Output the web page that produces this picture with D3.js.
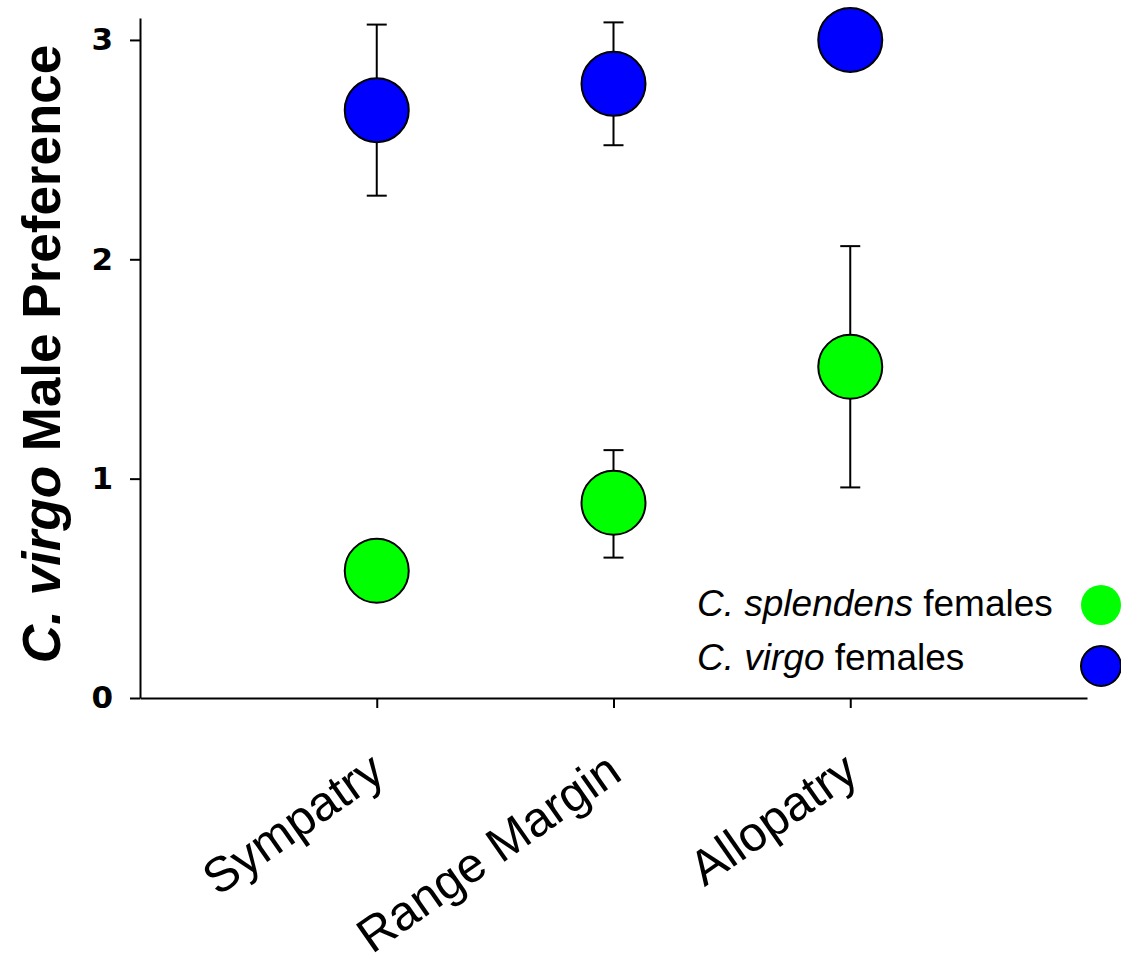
<!DOCTYPE html>
<html lang="en">
<head>
<meta charset="utf-8">
<title>C. virgo male preference</title>
<script src="https://d3js.org/d3.v7.min.js"></script>
<style>
  body { margin: 0; background: #fff; }
  .axis path, .axis line { stroke: #000; stroke-width: 2px; }
</style>
</head>
<body>
<script>
// values
var categories = ["Sympatry", "Range Margin", "Allopatry"];
var splendensMean = [0.58, 0.89, 1.51];
var splendensLow = [null, 0.64, 0.96];
var splendensHigh = [null, 1.13, 2.06];
var virgoMean = [2.68, 2.80, 3.00];
var virgoLow = [2.29, 2.52, null];
var virgoHigh = [3.07, 3.08, null];
var yTicks = [0, 1, 2, 3];

var W = 1121, H = 973;
var mLeft = 140, mRight = 1087, mTop = 18, mBottom = 698;

var svg = d3.select("body").append("svg")
  .attr("width", W).attr("height", H);

var x = d3.scalePoint().domain(categories).range([mLeft, mRight]).padding(1);
var y = d3.scaleLinear().domain([0, 3.1]).range([mBottom, mTop]);

// y axis
var yAxis = svg.append("g")
  .attr("class", "axis")
  .attr("transform", "translate(" + mLeft + ",0)")
  .call(d3.axisLeft(y).tickValues(yTicks).tickFormat(d3.format("d")).tickSize(10).tickSizeOuter(0));
yAxis.selectAll("text")
  .attr("x", -27)
  .style("font-family", "DejaVu Sans")
  .style("font-weight", "bold")
  .style("font-size", "31px")
  .attr("fill", "#000");

// x axis
var xAxis = svg.append("g")
  .attr("class", "axis")
  .attr("transform", "translate(0," + mBottom + ")")
  .call(d3.axisBottom(x).tickSize(10).tickSizeOuter(0));
xAxis.selectAll("text")
  .attr("x", 0).attr("y", 0).attr("dy", null)
  .attr("text-anchor", "end")
  .attr("transform", "translate(10,80) rotate(-35)")
  .style("font-family", "Liberation Sans, Arial, sans-serif")
  .style("font-size", "49px")
  .attr("fill", "#000");

// y title
var title = svg.append("text")
  .attr("transform", "translate(60,354) rotate(-90)")
  .attr("text-anchor", "middle")
  .style("font-family", "Liberation Sans, Arial, sans-serif")
  .style("font-weight", "bold")
  .style("font-size", "53px");
title.append("tspan").style("font-style", "italic").text("C. virgo");
title.append("tspan").text(" Male Preference");

var series = [
  { mean: splendensMean, low: splendensLow, high: splendensHigh, color: "#00ff00" },
  { mean: virgoMean, low: virgoLow, high: virgoHigh, color: "#0000ff" }
];

series.forEach(function(s) {
  var rows = categories.map(function(c, i) {
    return { cat: c, mean: s.mean[i], low: s.low[i], high: s.high[i] };
  });
  var bars = rows.filter(function(d) { return d.low != null; });
  var g = svg.append("g");
  g.selectAll(".err").data(bars).enter().append("line")
    .attr("x1", function(d) { return x(d.cat); })
    .attr("x2", function(d) { return x(d.cat); })
    .attr("y1", function(d) { return y(d.low); })
    .attr("y2", function(d) { return y(d.high); })
    .attr("stroke", "#000").attr("stroke-width", 2);
  ["low", "high"].forEach(function(k) {
    g.selectAll(".cap-" + k).data(bars).enter().append("line")
      .attr("x1", function(d) { return x(d.cat) - 10; })
      .attr("x2", function(d) { return x(d.cat) + 10; })
      .attr("y1", function(d) { return y(d[k]); })
      .attr("y2", function(d) { return y(d[k]); })
      .attr("stroke", "#000").attr("stroke-width", 2);
  });
  g.selectAll("circle").data(rows).enter().append("circle")
    .attr("cx", function(d) { return x(d.cat); })
    .attr("cy", function(d) { return y(d.mean); })
    .attr("r", 32)
    .attr("fill", s.color)
    .attr("stroke", "#000").attr("stroke-width", 2);
});

// legend
var legendItems = [
  { sp: "C. splendens", color: "#00ff00", stroke: "none" },
  { sp: "C. virgo", color: "#0000ff", stroke: "#000" }
];
var legend = svg.append("g");
legendItems.forEach(function(d, i) {
  var t = legend.append("text")
    .attr("x", 697).attr("y", 616 + i * 54)
    .style("font-family", "Liberation Sans, Arial, sans-serif")
    .style("font-size", "37px");
  t.append("tspan").style("font-style", "italic").text(d.sp);
  t.append("tspan").text(" females");
  legend.append("circle")
    .attr("cx", 1101).attr("cy", 605 + i * 61)
    .attr("r", 20)
    .attr("fill", d.color)
    .attr("stroke", d.stroke).attr("stroke-width", 2);
});
</script>
</body>
</html>
